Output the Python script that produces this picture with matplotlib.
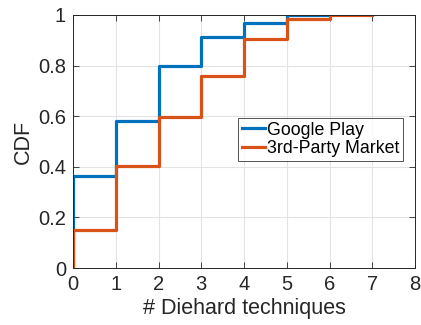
import matplotlib
matplotlib.use("Agg")
import matplotlib.pyplot as plt

plt.rcParams['font.family'] = ['Liberation Sans', 'DejaVu Sans']

gp_x = [0, 0, 1, 2, 3, 4, 5, 6]
gp_y = [0, 0.362, 0.581, 0.800, 0.912, 0.968, 1.0, 1.0]
tp_x = [0, 0, 1, 2, 3, 4, 5, 6, 7]
tp_y = [0, 0.151, 0.402, 0.595, 0.759, 0.905, 0.985, 1.0, 1.0]
labels = ['Google Play', '3rd-Party Market']
xticks = [0, 1, 2, 3, 4, 5, 6, 7, 8]
yticks = [0, 0.2, 0.4, 0.6, 0.8, 1]
yticklabels = ['0', '0.2', '0.4', '0.6', '0.8', '1']

fig = plt.figure(figsize=(4.21, 3.25), dpi=100)
ax = fig.add_axes([73/421, 1-268/325, (415-73)/421, (268-15)/325])

ax.step(gp_x, gp_y, where='post', color='#0072BD', lw=2.3, label=labels[0])
ax.step(tp_x, tp_y, where='post', color='#D95319', lw=2.3, label=labels[1])

ax.set_xlim(0, 8)
ax.set_ylim(0, 1)
ax.set_xticks(xticks)
ax.set_yticks(yticks)
ax.set_yticklabels(yticklabels)
ax.grid(True, color='#e3e3e3', lw=0.8)
ax.set_axisbelow(True)
ax.tick_params(direction='in', top=True, right=True, labelsize=14.5, length=4, width=0.6, color='#262626', labelcolor='#262626', pad=5)
for s in ax.spines.values():
    s.set_color('#262626')
    s.set_linewidth(0.7)
ax.set_xlabel('# Diehard techniques', fontsize=15.5, color='#262626', labelpad=3)
ax.set_ylabel('CDF', fontsize=15.5, color='#262626', labelpad=3)

leg = ax.legend(loc='upper left', bbox_to_anchor=((238-73)/342, 1-(118-15)/253), fontsize=12.8,
                frameon=True, fancybox=False, edgecolor='#262626', handlelength=1.3,
                handletextpad=0.15, borderpad=0.2, labelspacing=0.1, borderaxespad=0)
leg.get_frame().set_linewidth(0.7)

fig.savefig('out.png', dpi=100)
